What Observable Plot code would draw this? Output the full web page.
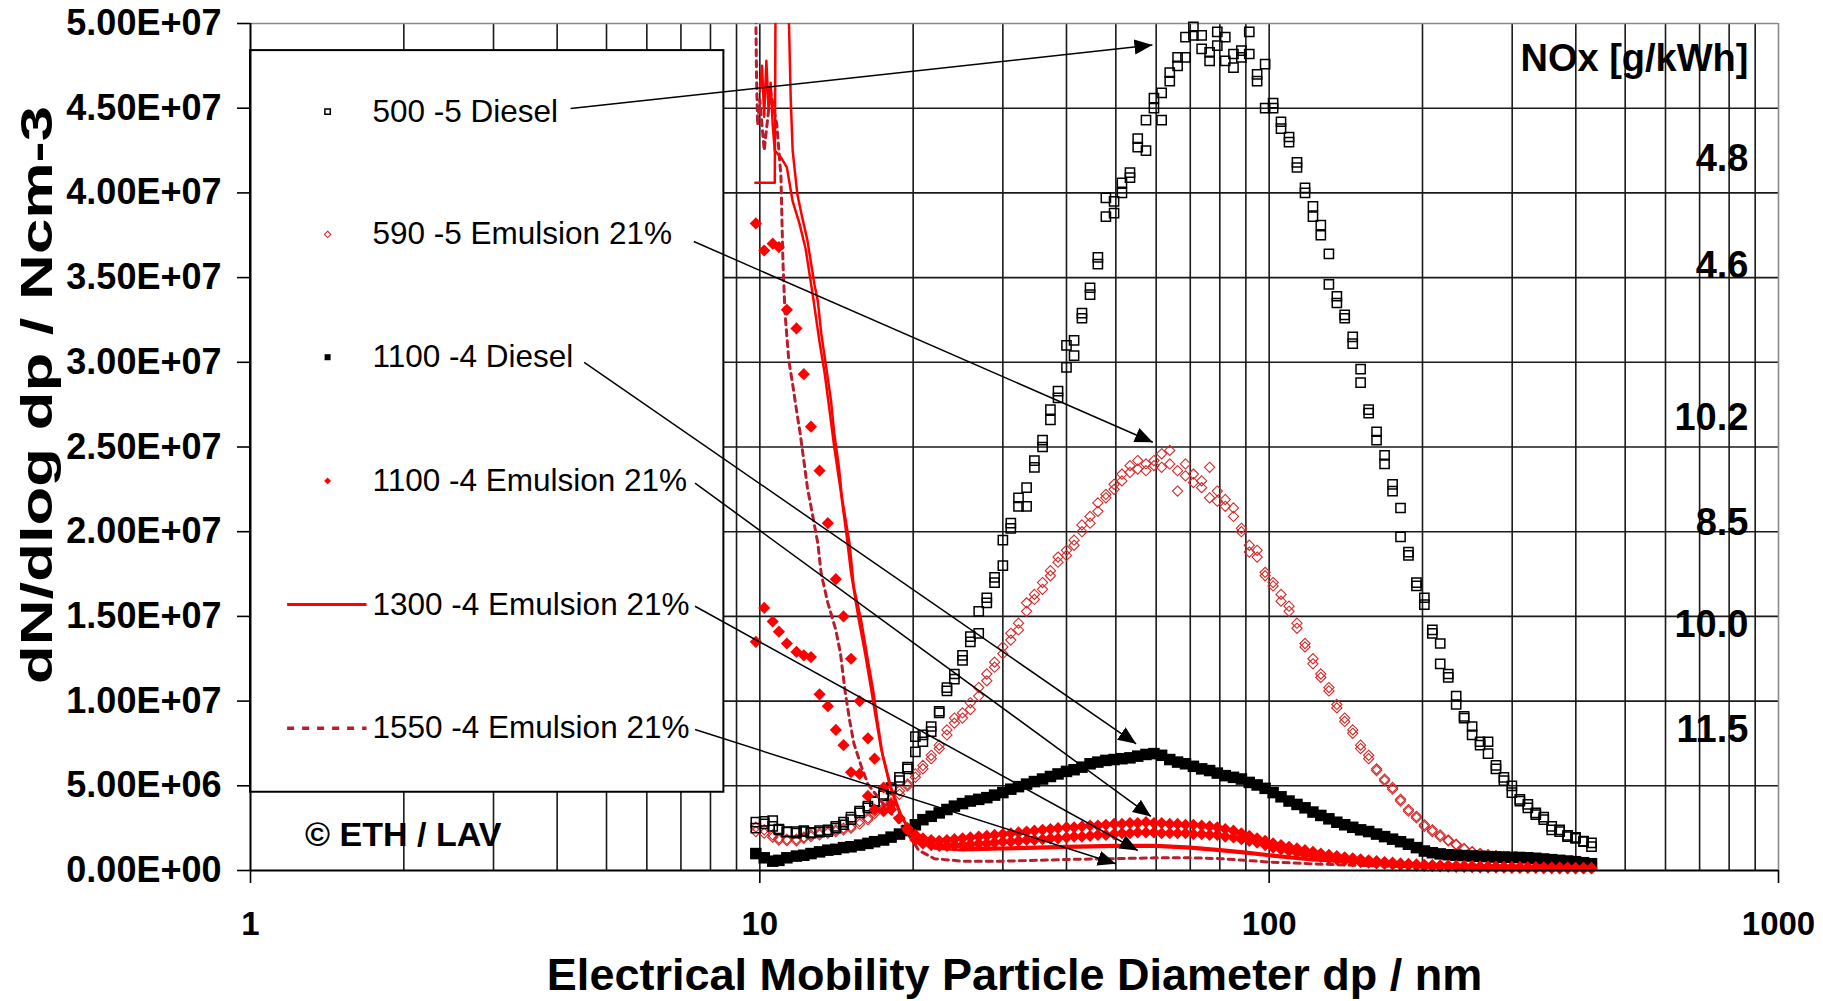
<!DOCTYPE html>
<html>
<head>
<meta charset="utf-8">
<script src="https://cdn.jsdelivr.net/npm/d3@7"></script>
<script src="https://cdn.jsdelivr.net/npm/@observablehq/plot@0.6"></script>
<style>
  html, body { margin: 0; padding: 0; background: #fff; }
  #chart svg { display: block; }
</style>
</head>
<body>
<div id="chart"></div>
<script>
// SMPS channel mid-point diameters, nm (64 channels per decade)
const diameters = [
  9.82, 10.2, 10.6, 10.9, 11.3, 11.8, 12.2, 12.6, 13.1, 13.6,
  14.1, 14.6, 15.1, 15.7, 16.3, 16.8, 17.5, 18.1, 18.8, 19.5,
  20.2, 20.9, 21.7, 22.5, 23.3, 24.1, 25.0, 25.9, 26.9, 27.9,
  28.9, 30.0, 31.1, 32.2, 33.4, 34.6, 35.9, 37.2, 38.5, 40.0,
  41.4, 42.9, 44.5, 46.1, 47.8, 49.6, 51.4, 53.3, 55.2, 57.3,
  59.4, 61.5, 63.8, 66.1, 68.5, 71.0, 73.7, 76.4, 79.1, 82.0,
  85.1, 88.2, 91.4, 94.7, 98.2, 101.8, 105.5, 109.4, 113.4, 117.6,
  121.9, 126.3, 131.0, 135.8, 140.7, 145.9, 151.2, 156.8, 162.5, 168.5,
  174.7, 181.1, 187.7, 194.6, 201.7, 209.1, 216.7, 224.7, 232.9, 241.4,
  250.3, 259.5, 269.0, 278.8, 289.0, 299.6, 310.6, 322.0, 333.8, 346.0,
  358.7, 371.8, 385.4, 399.5, 414.2, 429.4
];

// dN/dlog dp in 10^6 cm^-3, one value per channel, two scans per operating point
const diesel500ScanA = [
  2.85, 2.90, 2.95, 2.40, 2.26, 2.30, 2.36, 2.20, 2.26, 2.30,
  2.50, 2.70, 3.15, 3.50, 3.80, 4.10, 4.50, 4.90, 5.50, 6.10,
  7.90, 7.60, 8.50, 9.30, 10.6, 11.6, 12.7, 13.5, 14.0, 16.1,
  17.3, 18.0, 20.5, 22.0, 22.6, 24.2, 25.4, 26.6, 27.9, 29.7,
  31.3, 32.9, 34.4, 36.2, 38.6, 38.8, 40.0, 40.9, 42.7, 42.5,
  45.0, 45.9, 47.1, 48.0, 48.0, 49.8, 49.3, 48.3, 49.5, 49.2,
  48.2, 48.4, 49.5, 46.6, 47.6, 45.3, 43.8, 43.3, 41.5, 40.3,
  39.2, 38.1, 36.4, 33.9, 32.8, 31.5, 29.6, 27.2, 25.9, 24.5,
  22.8, 21.4, 18.6, 16.8, 16.1, 14.0, 13.4, 11.6, 10.3, 9.1,
  8.5, 7.6, 7.6, 6.2, 5.5, 5.0, 4.2, 3.9, 3.4, 3.15,
  2.6, 2.4, 2.07, 1.96, 1.74, 1.63
];
const diesel500ScanB = [
  2.50, 2.75, 2.60, 2.45, 2.30, 2.20, 2.30, 2.25, 2.35, 2.40,
  2.60, 2.85, 3.00, 3.40, 3.70, 4.05, 4.40, 4.80, 5.30, 6.00,
  7.00, 8.00, 8.20, 9.40, 10.8, 11.3, 12.4, 13.8, 15.3, 15.8,
  17.0, 19.5, 20.2, 21.5, 21.5, 23.8, 25.0, 27.2, 28.3, 31.0,
  30.4, 32.6, 34.0, 35.8, 39.7, 39.5, 40.6, 41.2, 43.2, 44.3,
  45.6, 44.3, 46.6, 47.5, 49.2, 49.3, 48.5, 47.8, 48.7, 47.8,
  47.4, 48.0, 48.2, 47.0, 45.0, 45.0, 44.2, 43.0, 41.8, 40.0,
  38.6, 37.5, 34.6, 33.5, 32.6, 31.1, 28.8, 27.0, 25.4, 24.0,
  22.4, 19.7, 18.8, 17.0, 15.7, 14.2, 12.2, 11.4, 9.8, 9.0,
  8.0, 7.4, 6.9, 6.0, 5.3, 4.6, 4.1, 3.7, 3.3, 3.0,
  2.4, 2.3, 2.0, 1.9, 1.7, 1.41
];
const emulsion590ScanA = [
  2.56, 2.20, 1.97, 1.80, 1.77, 1.85, 1.97, 2.00, 2.10, 2.20,
  2.30, 2.40, 2.60, 2.75, 3.10, 3.36, 3.70, 4.00, 4.70, 5.10,
  5.50, 6.20, 6.80, 7.40, 8.30, 8.70, 9.00, 9.50, 10.3, 11.2,
  12.0, 12.8, 13.6, 14.6, 15.3, 16.3, 17.0, 17.7, 18.2, 18.9,
  19.5, 20.0, 20.9, 21.7, 22.2, 22.8, 23.4, 23.9, 24.2, 24.0,
  24.2, 24.6, 24.8, 23.6, 24.0, 23.4, 23.0, 23.8, 22.4, 21.9,
  21.4, 20.2, 19.2, 18.9, 17.6, 16.8, 16.3, 15.6, 14.6, 13.4,
  12.5, 11.6, 10.6, 9.6, 9.0, 8.3, 7.4, 6.6, 5.9, 5.4,
  4.8, 4.2, 3.6, 3.1, 2.7, 2.3, 2.0, 1.75, 1.5, 1.3,
  1.1, 1.0, 0.93, 0.88, 0.84, 0.76, 0.70, 0.65, 0.60, 0.55,
  0.52, 0.48, 0.45, 0.43, 0.41, 0.40
];
const emulsion590ScanB = [
  2.30, 2.40, 2.10, 1.90, 1.85, 1.75, 1.90, 2.10, 2.20, 2.30,
  2.40, 2.50, 2.50, 2.90, 3.00, 3.50, 3.60, 4.20, 4.50, 5.00,
  5.70, 6.00, 6.60, 7.20, 8.00, 9.00, 9.30, 9.90, 10.8, 11.6,
  12.3, 13.2, 14.0, 14.2, 15.8, 16.0, 16.6, 17.4, 18.5, 18.6,
  19.2, 20.4, 20.5, 21.2, 22.0, 22.5, 23.0, 23.5, 23.7, 23.6,
  23.9, 23.8, 24.0, 22.4, 23.3, 22.9, 22.6, 22.0, 21.8, 21.5,
  20.9, 20.0, 18.8, 18.5, 17.4, 17.0, 15.9, 15.3, 14.3, 13.2,
  12.2, 11.4, 10.8, 9.8, 8.8, 8.1, 7.2, 6.8, 6.0, 5.3,
  4.9, 4.1, 3.5, 3.2, 2.6, 2.4, 2.1, 1.8, 1.55, 1.25,
  1.1, 0.98, 0.90, 0.86, 0.80, 0.74, 0.68, 0.62, 0.58, 0.54,
  0.50, 0.47, 0.44, 0.42, 0.40, 0.38
];
const diesel1100 = [
  1.00, 0.75, 0.55, 0.60, 0.75, 0.85, 0.90, 1.00, 1.10, 1.20,
  1.25, 1.35, 1.40, 1.50, 1.60, 1.70, 1.80, 1.97, 2.15, 2.36,
  2.70, 3.00, 3.20, 3.40, 3.60, 3.80, 3.95, 4.10, 4.20, 4.30,
  4.45, 4.60, 4.80, 4.95, 5.10, 5.25, 5.40, 5.55, 5.70, 5.85,
  5.95, 6.10, 6.30, 6.40, 6.50, 6.55, 6.60, 6.65, 6.75, 6.85,
  6.90, 6.80, 6.55, 6.40, 6.30, 6.15, 6.00, 5.90, 5.75, 5.60,
  5.50, 5.40, 5.20, 5.05, 4.85, 4.60, 4.35, 4.10, 3.90, 3.70,
  3.45, 3.25, 3.05, 2.85, 2.70, 2.55, 2.40, 2.30, 2.15, 2.00,
  1.85, 1.70, 1.55, 1.35, 1.15, 1.05, 0.98, 0.93, 0.90, 0.88,
  0.86, 0.84, 0.82, 0.80, 0.79, 0.78, 0.77, 0.75, 0.72, 0.68,
  0.64, 0.60, 0.56, 0.52, 0.46, 0.40
];
const emulsion1100ScanA = [
  38.2, 36.6, 37.0, 36.8, 33.1, 32.0, 29.3, 26.2, 23.6, 20.5,
  17.2, 15.0, 12.5, 10.0, 7.8, 6.6, 4.9, 3.9, 3.1, 2.5,
  2.10, 1.90, 1.80, 1.75, 1.80, 1.85, 1.90, 1.95, 2.00, 2.05,
  2.10, 2.15, 2.20, 2.25, 2.30, 2.35, 2.40, 2.45, 2.50, 2.55,
  2.55, 2.60, 2.65, 2.65, 2.70, 2.75, 2.75, 2.80, 2.80, 2.85,
  2.80, 2.80, 2.75, 2.75, 2.70, 2.70, 2.65, 2.60, 2.55, 2.45,
  2.35, 2.20, 2.05, 1.90, 1.75, 1.60, 1.50, 1.40, 1.30, 1.20,
  1.10, 1.00, 0.92, 0.85, 0.78, 0.72, 0.66, 0.60, 0.55, 0.50,
  0.46, 0.42, 0.39, 0.36, 0.34, 0.32, 0.30, 0.29, 0.28, 0.27,
  0.26, 0.25, 0.24, 0.23, 0.22, 0.22, 0.21, 0.20, 0.20, 0.19,
  0.18, 0.18, 0.17, 0.16, 0.16, 0.15
];
const emulsion1100ScanB = [
  13.5, 15.5, 14.7, 14.1, 13.4, 12.9, 12.7, 12.6, 10.4, 9.7,
  8.3, 7.4, 5.8, 5.7, 4.4, 3.6, 3.5, 3.6, 3.1, 2.4,
  1.80, 1.60, 1.50, 1.45, 1.45, 1.50, 1.50, 1.55, 1.60, 1.60,
  1.65, 1.70, 1.70, 1.75, 1.80, 1.80, 1.85, 1.90, 1.90, 1.95,
  2.00, 2.00, 2.05, 2.10, 2.10, 2.15, 2.20, 2.20, 2.25, 2.25,
  2.25, 2.20, 2.20, 2.20, 2.20, 2.15, 2.15, 2.10, 2.10, 2.00,
  1.95, 1.85, 1.75, 1.65, 1.50, 1.35, 1.25, 1.15, 1.05, 0.95,
  0.88, 0.80, 0.72, 0.66, 0.60, 0.55, 0.50, 0.46, 0.42, 0.39,
  0.36, 0.33, 0.31, 0.29, 0.27, 0.25, 0.24, 0.23, 0.22, 0.21,
  0.20, 0.19, 0.18, 0.18, 0.17, 0.16, 0.16, 0.15, 0.15, 0.14,
  0.14, 0.13, 0.13, 0.12, 0.12, 0.12
];

// Line-drawn operating points: own diameter grids (nm) and values (10^6 cm^-3)
const emulsion1300DiamA = [
  9.8, 10.7, 10.75, 11.35, 11.4, 11.5, 11.6, 11.85, 12.1, 12.4,
  12.8, 13.0, 13.2, 13.5, 13.8, 14.0, 14.3, 14.5, 15.0, 15.3,
  15.8, 16.3, 16.7, 17.0, 17.4, 18.1, 18.9, 19.7, 20.5, 22,
  25, 30, 35, 40, 50, 60, 70, 80, 90, 100,
  120, 150, 200, 300, 430
];
const emulsion1300ValA = [
  40.6, 40.6, 56, 56, 50.4, 45.5, 42.5, 39.9, 38.6, 37.2,
  34.6, 33.6, 31.7, 29.7, 27.7, 25.8, 23.8, 22.0, 19.3, 16.7,
  14.8, 12.4, 10.6, 8.9, 6.9, 4.9, 3.35, 2.36, 1.7, 1.5,
  1.35, 1.35, 1.4, 1.45, 1.5, 1.5, 1.4, 1.25, 1.1, 0.95,
  0.7, 0.5, 0.32, 0.2, 0.15
];
const emulsion1300DiamB = [
  10.0, 10.1, 10.2, 10.3, 10.4, 10.5, 10.6, 10.7, 11.0, 11.3,
  11.6, 11.96, 12.3, 12.7, 13.1, 13.4, 13.7, 14.0, 14.4, 14.8,
  15.1, 15.6, 16.1, 16.5, 16.9, 17.3, 18.0, 18.8, 19.6, 20.5,
  22, 25, 30, 35, 40, 50, 60, 70, 80, 90,
  100, 120, 150, 200, 300, 430
];
const emulsion1300ValB = [
  46.0, 47.5, 44.5, 47.8, 45.0, 46.5, 44.0, 42.5, 42.1, 41.5,
  39.5, 38.2, 36.7, 34.0, 31.2, 29.4, 27.2, 25.0, 22.5, 19.8,
  17.6, 15.0, 12.8, 10.9, 9.0, 7.2, 5.0, 3.4, 2.4, 1.8,
  1.3, 1.2, 1.25, 1.3, 1.35, 1.4, 1.4, 1.3, 1.15, 1.0,
  0.85, 0.62, 0.45, 0.3, 0.18, 0.13
];
const emulsion1550Diam = [
  9.8, 9.85, 9.9, 10.0, 10.2, 10.5, 10.8, 11.0, 11.1, 11.2,
  11.4, 11.6, 11.8, 12.0, 12.2, 12.4, 12.6, 13.0, 13.2, 13.6,
  14.1, 14.4, 14.7, 15.0, 15.3, 15.8, 16.3, 17.3, 18.3, 19.5,
  20.5, 22, 25, 30, 35, 40, 50, 60, 70, 80,
  90, 100, 120, 150, 200, 300, 430
];
const emulsion1550Val = [
  53, 47, 44, 45.5, 42.5, 46, 44, 41, 36, 33,
  30.1, 28.7, 27.2, 25.8, 24.2, 22.6, 21.5, 19.3, 17.5, 15.8,
  14.2, 12.8, 10.6, 8.9, 7.5, 6.2, 5.1, 4.1, 3.2, 2.2,
  1.2, 0.7, 0.55, 0.55, 0.6, 0.65, 0.7, 0.75, 0.75, 0.7,
  0.6, 0.5, 0.4, 0.3, 0.2, 0.12, 0.08
];

const seriesNames = [
  "500 -5 Diesel",
  "590 -5 Emulsion 21%",
  "1100 -4 Diesel",
  "1100 -4 Emulsion 21%",
  "1300 -4 Emulsion 21%",
  "1550 -4 Emulsion 21%"
];
const noxValues = ["4.8", "4.6", "10.2", "8.5", "10.0", "11.5"];
const noxTitle = "NOx [g/kWh]";
const yTicks = [0, 5e6, 1e7, 1.5e7, 2e7, 2.5e7, 3e7, 3.5e7, 4e7, 4.5e7, 5e7];
const xTicks = [1, 10, 100, 1000];
const xGrid = [2, 3, 4, 5, 6, 7, 8, 9, 10, 20, 30, 40, 50, 60, 70, 80, 90, 100,
               200, 300, 400, 500, 600, 700, 800, 900];
const xTitle = "Electrical Mobility Particle Diameter dp / nm";
const yTitle = "dN/dlog dp / Ncm-3";
const credit = "\u00a9 ETH / LAV";

// ---- build tables -------------------------------------------------------
const M = 1e6;
const channelPoints = (values, scan) =>
  values.map((v, i) => ({d: diameters[i], v: v * M, scan}));
const linePoints = (ds, vs, scan) => ds.map((d, i) => ({d, v: vs[i] * M, scan}));

const pDiesel500 = [...channelPoints(diesel500ScanA, "a"), ...channelPoints(diesel500ScanB, "b")];
const pEmul590 = [...channelPoints(emulsion590ScanA, "a"), ...channelPoints(emulsion590ScanB, "b")];
const pDiesel1100 = channelPoints(diesel1100, "a");
const pEmul1100 = [...channelPoints(emulsion1100ScanA, "a"), ...channelPoints(emulsion1100ScanB, "b")];
const pEmul1300 = [...linePoints(emulsion1300DiamA, emulsion1300ValA, "a"),
                   ...linePoints(emulsion1300DiamB, emulsion1300ValB, "b")];
const pEmul1550 = linePoints(emulsion1550Diam, emulsion1550Val, "a");

// ---- styles ---------------------------------------------------------------
const RED = "#ff0000";
const RED_OPEN = "#d42a2a";
const RED_DARK = "#b81e2c";
const styles = [
  {symbol: "square", r: 5.2, stroke: "black", strokeWidth: 1.5, fill: "none"},
  {symbol: "diamond2", r: 4.6, stroke: RED_OPEN, strokeWidth: 1.1, fill: "none"},
  {symbol: "square", r: 6.5, fill: "black"},
  {symbol: "diamond2", r: 5.5, fill: RED}
];

// ---- annotation layout (data coordinates) --------------------------------
const legendBox = {x1: 1, x2: 8.5, y1: 4.62e6, y2: 4.84e7};
const legendRows = [4.48e7, 3.755e7, 3.03e7, 2.30e7, 1.57e7, 8.4e6];
const legendMarkX = 1.417, legendLineX1 = 1.18, legendLineX2 = 1.69, legendTextX = 1.736;
const noxX = 873;
const noxRows = [4.2e7, 3.57e7, 2.67e7, 2.05e7, 1.45e7, 8.3e6];
const arrows = [
  {x1: 4.25, y1: 4.498e7, x2: 59.0, y2: 4.873e7},
  {x1: 7.42, y1: 3.713e7, x2: 59.1, y2: 2.528e7},
  {x1: 4.52, y1: 3.0e7, x2: 54.8, y2: 7.48e6},
  {x1: 7.46, y1: 2.287e7, x2: 58.6, y2: 3.19e6},
  {x1: 7.46, y1: 1.56e7, x2: 55.2, y2: 1.18e6},
  {x1: 7.46, y1: 8.32e6, x2: 50.0, y2: 3.96e5}
];

const legend = seriesNames.map((name, i) => ({name, y: legendRows[i], i}));
const nox = noxValues.map((text, i) => ({text, y: noxRows[i]}));

const fmtE = v => {
  const [m, e] = v.toExponential(2).split("e");
  const sign = e[0] === "-" ? "-" : "+";
  return `${m}E${sign}${e.replace(/^[+-]/, "").padStart(2, "0")}`;
};

const GRID = "#1a1a1a";
const FONT = "'Liberation Sans', Arial, Helvetica, sans-serif";

const chart = Plot.plot({
  width: 1823,
  height: 1001,
  marginLeft: 250,
  marginRight: 45,
  marginTop: 23,
  marginBottom: 131,
  style: {fontFamily: FONT, background: "#fff", color: "#000"},
  x: {type: "log", domain: [1, 1000]},
  y: {domain: [0, 5e7]},
  marks: [
    // grid
    Plot.ruleX(xGrid, {stroke: GRID, strokeWidth: 1.6}),
    Plot.ruleY(yTicks.filter(v => v > 0 && v < 5e7), {stroke: GRID, strokeWidth: 1.6}),
    Plot.ruleY([5e7], {stroke: "#8a8a8a", strokeWidth: 1.6}),
    Plot.ruleX([1000], {stroke: "#8a8a8a", strokeWidth: 1.6}),

    // legend panel
    Plot.rect([legendBox], {x1: "x1", x2: "x2", y1: "y1", y2: "y2", fill: "white", stroke: "black", strokeWidth: 2}),

    // measured size distributions
    Plot.dot(pEmul590, {x: "d", y: "v", ...styles[1]}),
    Plot.dot(pDiesel500, {x: "d", y: "v", ...styles[0]}),
    Plot.line(pEmul1550, {x: "d", y: "v", z: "scan", stroke: RED_DARK, strokeWidth: 3, strokeDasharray: "6,5", clip: true}),
    Plot.line(pEmul1300, {x: "d", y: "v", z: "scan", stroke: RED, strokeWidth: 2.5, clip: true}),
    Plot.dot(pDiesel1100, {x: "d", y: "v", ...styles[2]}),
    Plot.dot(pEmul1100, {x: "d", y: "v", ...styles[3]}),

    // axes
    Plot.ruleX([1], {stroke: "black", strokeWidth: 2}),
    Plot.ruleY([0], {stroke: "black", strokeWidth: 2}),
    Plot.axisY({ticks: yTicks, tickFormat: fmtE, tickSize: 13, tickPadding: 16, strokeWidth: 1.6,
                fontSize: 36, fontWeight: "bold", label: null}),
    Plot.axisX({ticks: xTicks, tickFormat: d => String(d), tickSize: 13, tickPadding: 28, strokeWidth: 1.6,
                fontSize: 33, fontWeight: "bold", label: null}),
    Plot.text([xTitle], {frameAnchor: "bottom", dy: 105, fontSize: 45, fontWeight: "bold", lineAnchor: "middle"}),
    Plot.text([yTitle], {frameAnchor: "left", dx: -213, dy: -52, rotate: -90, textAnchor: "middle",
                         lineAnchor: "middle", fontSize: 44, fontWeight: "bold"}),

    // legend contents
    Plot.dot(legend.filter(d => d.i < 4), {x: () => legendMarkX, y: "y",
      symbol: d => styles[d.i].symbol,
      r: d => styles[d.i].r,
      fill: d => styles[d.i].fill ?? "none",
      stroke: d => styles[d.i].stroke ?? "none",
      strokeWidth: d => styles[d.i].strokeWidth ?? 0}),
    Plot.link(legend.filter(d => d.i === 4), {x1: () => legendLineX1, x2: () => legendLineX2, y1: "y", y2: "y",
      stroke: RED, strokeWidth: 3}),
    Plot.link(legend.filter(d => d.i === 5), {x1: () => legendLineX1, x2: () => legendLineX2, y1: "y", y2: "y",
      stroke: RED_DARK, strokeWidth: 3.5, strokeDasharray: "7,8"}),
    Plot.text(legend, {x: () => legendTextX, y: "y", text: "name", textAnchor: "start", fontSize: 31.5}),

    // pointers from legend entries to curves
    Plot.link(arrows, {x1: "x1", y1: "y1", x2: "x2", y2: "y2", stroke: "black", strokeWidth: 1.5, markerEnd: "arrow"}),

    // NOx annotations and credit
    Plot.text([noxTitle], {x: () => noxX, y: () => 4.79e7, textAnchor: "end", fontSize: 38, fontWeight: "bold"}),
    Plot.text(nox, {x: () => noxX, y: "y", text: "text", textAnchor: "end", fontSize: 38, fontWeight: "bold"}),
    Plot.text([credit], {x: () => 1.28, y: () => 2.07e6, textAnchor: "start", fontSize: 34, fontWeight: "bold"})
  ]
});

// filled arrowheads for the pointer links
d3.select(chart).selectAll("marker")
  .attr("viewBox", "-10 -5 10 10")
  .attr("markerWidth", 12)
  .attr("markerHeight", 12)
  .attr("fill", "black")
  .attr("stroke", "none")
  .selectAll("path")
  .attr("d", "M-10,-4.2L0,0L-10,4.2Z");

// the vertical title is set in a tall, narrow face: stretch it along its length
d3.select(chart).selectAll("text")
  .filter(function() { return this.textContent === yTitle; })
  .attr("textLength", 578)
  .attr("lengthAdjust", "spacingAndGlyphs");

document.getElementById("chart").append(chart);
</script>
</body>
</html>
